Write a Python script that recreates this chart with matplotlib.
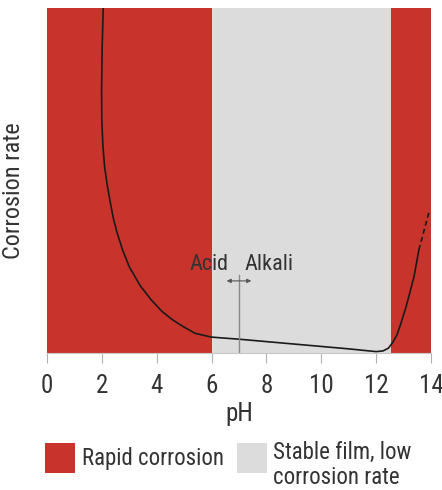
import matplotlib.pyplot as plt
from matplotlib.patches import Rectangle

plt.rcParams['font.family'] = ['Roboto Condensed', 'DejaVu Sans']

# pH zones
rapid_left = (0, 6.0)
stable_zone = (6.0, 12.55)
rapid_right = (12.55, 14)

# corrosion rate curve (arbitrary units)
ph_curve = [2.05, 2.01, 1.99, 2.0, 2.04, 2.1, 2.19, 2.3, 2.42, 2.55, 2.75, 3.0, 3.4, 3.8, 4.2, 4.6,
            5.0, 5.4, 6.0, 7.0, 8.0, 9.0, 10.0, 11.0, 11.5, 12.0, 12.25, 12.45, 12.6,
            12.76, 12.9, 13.09, 13.38, 13.56]
rate_curve = [100, 88, 76, 67, 60, 54, 49, 44, 39, 35, 30, 25, 19.5, 15.4, 12, 9.5,
              7.5, 5.7, 4.6, 4.0, 3.3, 2.6, 1.9, 1.2, 0.8, 0.4, 0.6, 1.4, 3.0,
              5.2, 8.5, 13.3, 22.0, 29.9]
ph_dashed = [13.56, 13.93]
rate_dashed = [29.9, 40.9]

xticks = [0, 2, 4, 6, 8, 10, 12, 14]
legend_labels = ['Rapid corrosion', 'Stable film, low\ncorrosion rate']

red = '#c8342c'
grey = '#dcdcdc'
txt = '#333333'

fig = plt.figure(figsize=(4.42, 4.9), dpi=100)
ax = fig.add_axes([0.1063, 0.2796, 0.8687, 0.7041])

ax.axvspan(*rapid_left, color=red, lw=0)
ax.axvspan(*stable_zone, color=grey, lw=0)
ax.axvspan(*rapid_right, color=red, lw=0)

ax.plot(ph_curve, rate_curve, color='#1a1a1a', lw=1.2)
ax.plot(ph_dashed, rate_dashed, color='#1a1a1a', lw=1.2, ls=(0, (3, 2)))

# neutral line with acid / alkali arrow
ax.plot([7, 7], [0, 22.6], color='#8a8a8a', lw=1)
ax.annotate('', xy=(6.55, 20.9), xytext=(7.45, 20.9),
            arrowprops=dict(arrowstyle='<|-|>', color='#555555', lw=0.8,
                            mutation_scale=6, shrinkA=0, shrinkB=0))
ax.text(6.6, 24, 'Acid', ha='right', va='baseline', fontsize=16, color=txt)
ax.text(7.2, 24, 'Alkali', ha='left', va='baseline', fontsize=16, color=txt)

ax.set_xlim(0, 14)
ax.set_ylim(0, 100)
ax.set_xticks(xticks)
ax.set_yticks([])
for s in ['top', 'right', 'left']:
    ax.spines[s].set_visible(False)
ax.spines['bottom'].set_color('#c8c8c8')
ax.tick_params(axis='x', length=7, color='#b0b0b0', labelsize=18, labelcolor=txt, pad=8)

ax.set_xlabel('pH', fontsize=18, color=txt, labelpad=3)
ax.set_ylabel('Corrosion rate', fontsize=17.5, color=txt)
ax.yaxis.set_label_coords(-0.057, 0.47)

# legend drawn by hand so the swatches sit on the first text line
fig.add_artist(Rectangle((45 / 442, 17 / 490), 30 / 442, 30 / 490,
                         transform=fig.transFigure, facecolor=red, lw=0))
fig.add_artist(Rectangle((237 / 442, 17 / 490), 30 / 442, 30 / 490,
                         transform=fig.transFigure, facecolor=grey, lw=0))
fig.text(82 / 442, 32 / 490, legend_labels[0], ha='left', va='center',
         fontsize=16.5, color=txt)
fig.text(273 / 442, 49 / 490, legend_labels[1], ha='left', va='top',
         fontsize=16.5, color=txt, linespacing=1.1)

fig.savefig('out.png', dpi=100)
